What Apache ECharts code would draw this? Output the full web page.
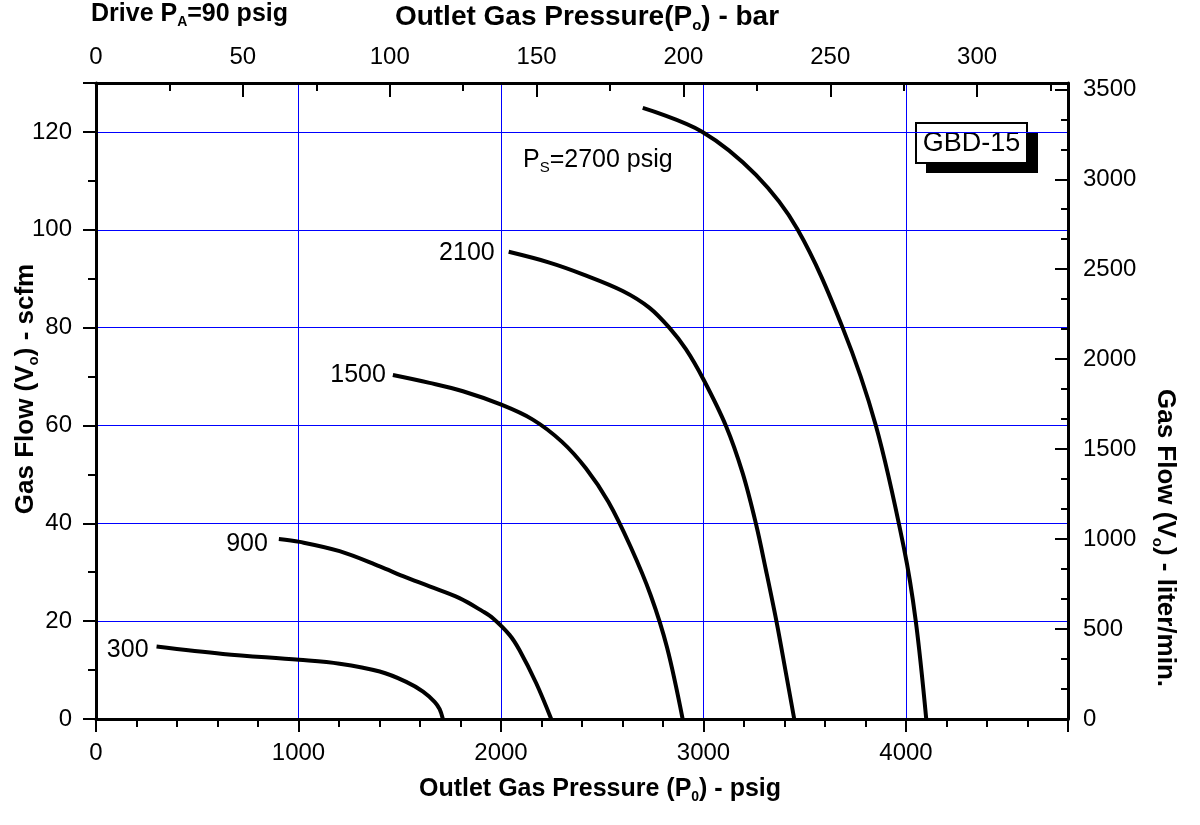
<!DOCTYPE html>
<html>
<head>
<meta charset="utf-8">
<title>GBD-15</title>
<script src="https://cdn.jsdelivr.net/npm/echarts@6/dist/echarts.min.js"></script>
<style>
  html, body { margin: 0; padding: 0; background: #fff; }
  #chart { width: 1200px; height: 825px; }
</style>
</head>
<body>
<div id="chart"></div>
<script>
// outlet pressure (psig) vs gas flow (scfm), one curve per supply pressure
const supplyLabels = ["300", "900", "1500", "2100", "2700"];
const curve300 = [[299, 14.8], [627, 13.3], [1003, 12.1], [1203, 11.3], [1401, 9.7], [1532, 7.6], [1615, 5.6], [1672, 3.5], [1697, 2.0], [1713, 0]];
const curve900 = [[903, 36.8], [1006, 36.2], [1203, 34.3], [1401, 31.2], [1516, 29.2], [1647, 27.1], [1795, 24.7], [1910, 22.0], [1960, 20.6], [2042, 17.2], [2091, 14.1], [2174, 7.3], [2248, 0]];
const curve1500 = [[1466, 70.3], [1647, 68.7], [1812, 67.0], [1998, 64.3], [2157, 61.2], [2300, 56.7], [2420, 51.2], [2530, 44.4], [2640, 35.2], [2740, 25.2], [2820, 14.6], [2897, 0]];
const curve2100 = [[2038, 95.5], [2239, 93.3], [2404, 90.9], [2601, 87.5], [2732, 84.1], [2831, 80.0], [2913, 75.6], [3000, 69.4], [3111, 59.9], [3193, 50.3], [3259, 39.9], [3308, 30.5], [3361, 19.8], [3407, 9.4], [3448, 0]];
const curve2700 = [[2700, 124.9], [2995, 120.0], [3259, 111.2], [3464, 100.1], [3686, 80.1], [3851, 60.0], [3990, 34.9], [4048, 20.1], [4100, 0]];
const curves = [curve300, curve900, curve1500, curve2100, curve2700];

const psigMax = 4800;
const psiPerBar = 14.5038;
const scfmMax = 130;
const lpmMax = 3535;

const FONT = '"Liberation Sans", Arial, sans-serif';
const black = "#000";
const blue = "#0000ff";

const chart = echarts.init(document.getElementById("chart"));

const titleRich = {
  t: { fontSize: 25, fontWeight: "bold", color: black, fontFamily: FONT },
  s: { fontSize: 14, fontWeight: "bold", color: black, fontFamily: FONT, padding: [15, 0, 0, 0] },
};
const leftTitleRich = {
  t: { fontSize: 26, fontWeight: "bold", color: black, fontFamily: FONT },
  s: { fontSize: 15, fontWeight: "bold", color: black, fontFamily: FONT, padding: [15, 0, 0, 0] },
};
const topTitleRich = {
  t: { fontSize: 28, fontWeight: "bold", color: black, fontFamily: FONT },
  s: { fontSize: 15, fontWeight: "bold", color: black, fontFamily: FONT, padding: [16, 0, 0, 0] },
};
const plainRich = {
  t: { fontSize: 25, color: black, fontFamily: FONT },
  s: { fontSize: 15, color: black, fontFamily: FONT, padding: [15, 0, 0, 0] },
};

// per-curve label placement for the supply pressure numbers
const labelOpts = [
  { distance: 8, offset: [0, 4] },
  { distance: 9, offset: [0, 5], backgroundColor: "#fff", padding: [12, 2, 2, 2] },
  { distance: 7, offset: [0, 0] },
  { distance: 14, offset: [0, 1] },
  null,
];

const axisLine = { show: true, onZero: false, lineStyle: { color: black, width: 3 } };
const tickStyle = { color: black, width: 2 };
const plainNum = (v) => String(Math.round(v));

const series = curves.map((c, k) => ({
  name: supplyLabels[k],
  type: "line",
  smooth: 0.35,
  symbol: "circle",
  symbolSize: 0,
  showAllSymbol: true,
  lineStyle: { color: black, width: 4 },
  itemStyle: { color: black },
  label: { show: false },
  emphasis: { disabled: true },
  data: c.map((p, i) => {
    if (i !== 0 || !labelOpts[k]) return p;
    return {
      value: p,
      label: Object.assign({
        show: true,
        position: "left",
        formatter: supplyLabels[k],
        fontSize: 25,
        color: black,
        fontFamily: FONT,
      }, labelOpts[k]),
    };
  }),
}));

chart.setOption({
  animation: false,
  backgroundColor: "#fff",
  textStyle: { fontFamily: FONT },
  grid: { left: 96, right: 132, top: 83, bottom: 106, containLabel: false, outerBoundsMode: "none" },
  xAxis: [
    {
      type: "value",
      position: "bottom",
      min: 0,
      max: psigMax,
      interval: 1000,
      axisLine: axisLine,
      axisTick: { show: true, length: 13, lineStyle: tickStyle },
      minorTick: { show: true, splitNumber: 5, length: 8, lineStyle: tickStyle },
      axisLabel: { margin: 22, fontSize: 24, color: black, showMaxLabel: false, formatter: plainNum },
      splitLine: { show: true, lineStyle: { color: blue, width: 1 } },
      name: "{t|Outlet Gas Pressure (P}{s|0}{t|) - psig}",
      nameLocation: "middle",
      nameGap: 56,
      nameMoveOverlap: false,
      nameTextStyle: { rich: titleRich, padding: [0, 0, 0, 36] },
    },
    {
      type: "value",
      position: "top",
      min: 0,
      max: psigMax / psiPerBar,
      interval: 50,
      axisLine: axisLine,
      axisTick: { show: true, inside: true, length: 14, lineStyle: tickStyle },
      minorTick: { show: true, splitNumber: 2, length: 8, lineStyle: tickStyle },
      axisLabel: { margin: 14, fontSize: 24, color: black, showMaxLabel: false, formatter: plainNum },
      splitLine: { show: false },
      name: "{t|Outlet Gas Pressure(P}{s|o}{t|) - bar}",
      nameLocation: "middle",
      nameGap: 50,
      nameMoveOverlap: false,
      nameTextStyle: { rich: topTitleRich, padding: [0, 0, 0, 10] },
    },
  ],
  yAxis: [
    {
      type: "value",
      position: "left",
      min: 0,
      max: scfmMax,
      interval: 20,
      axisLine: axisLine,
      axisTick: { show: true, length: 13, lineStyle: tickStyle },
      minorTick: { show: true, splitNumber: 2, length: 8, lineStyle: tickStyle },
      axisLabel: { margin: 24, fontSize: 24, color: black, showMaxLabel: false, formatter: plainNum },
      splitLine: { show: true, lineStyle: { color: blue, width: 1 } },
      name: "{t|Gas Flow (V}{s|o}{t|) - scfm}",
      nameLocation: "middle",
      nameRotate: 90,
      nameGap: 55,
      nameMoveOverlap: false,
      nameTextStyle: { rich: leftTitleRich, padding: [0, 0, 0, 24] },
    },
    {
      type: "value",
      position: "right",
      min: 0,
      max: lpmMax,
      interval: 500,
      axisLine: axisLine,
      axisTick: { show: true, inside: true, length: 13, lineStyle: tickStyle },
      minorTick: { show: true, splitNumber: 3, length: 7, lineStyle: tickStyle },
      axisLabel: { margin: 15, fontSize: 24, color: black, showMaxLabel: false, formatter: plainNum },
      splitLine: { show: false },
    },
  ],
  graphic: [
    {
      type: "text",
      left: 91,
      top: 2,
      style: { text: "{t|Drive P}{s|A}{t|=90 psig}", rich: titleRich },
    },
    {
      type: "text",
      left: 523,
      top: 148,
      style: { text: "{t|P}{s|S}{t|=2700 psig}", rich: plainRich },
    },
    {
      type: "text",
      x: 1165,
      y: 538,
      rotation: -Math.PI / 2,
      style: {
        text: "{t|Gas Flow (V}{s|o}{t|) - liter/min.}",
        rich: leftTitleRich,
        align: "center",
        verticalAlign: "middle",
      },
    },
    {
      type: "group",
      left: 915,
      top: 122,
      children: [
        { type: "rect", shape: { x: 10, y: 10, width: 112, height: 40 }, style: { fill: black } },
        { type: "rect", shape: { x: 0, y: 0, width: 111, height: 40 }, style: { fill: "#fff", stroke: black, lineWidth: 2 } },
        {
          type: "text",
          x: 55.5,
          y: 21,
          style: { text: "GBD-15", fontSize: 27, fill: black, fontFamily: FONT, align: "center", verticalAlign: "middle" },
        },
      ],
    },
  ],
  series: series,
});
</script>
</body>
</html>
